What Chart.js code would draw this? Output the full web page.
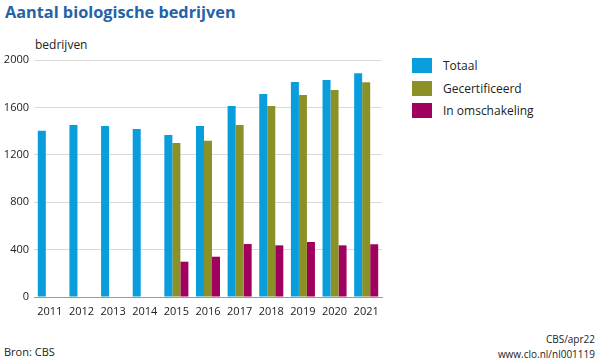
<!DOCTYPE html>
<html>
<head>
<meta charset="utf-8">
<script src="https://cdn.jsdelivr.net/npm/chart.js@4/dist/chart.umd.min.js"></script>
<style>
	body { margin: 0; width: 600px; height: 364px; background: #fff; font-family: "Open Sans", sans-serif; position: relative; overflow: hidden; }
	.title { position: absolute; left: 5px; top: 1px; font-size: 16.3px; font-weight: bold; color: #2463a8; }
	.unit { position: absolute; left: 35px; top: 36px; font-size: 12px; color: #222; }
	.chart { position: absolute; left: 0; top: 0; width: 390px; height: 320px; }
	.legend { position: absolute; left: 412px; top: 58px; font-size: 12px; color: #222; }
	.legend div { height: 22.5px; line-height: 16px; }
	.legend span { display: inline-block; width: 20px; height: 15px; vertical-align: top; margin-right: 11px; }
	.source { position: absolute; left: 4px; top: 344px; font-size: 11px; color: #222; }
	.credit { position: absolute; right: 5px; top: 332px; font-size: 10px; color: #222; text-align: right; line-height: 15px; }
</style>
</head>
<body>
<div class="title">Aantal biologische bedrijven</div>
<div class="unit">bedrijven</div>
<div class="chart"><canvas id="chart-bedrijven"></canvas></div>
<div class="legend" id="legend"></div>
<div class="source">Bron: CBS</div>
<div class="credit">CBS/apr22<br>www.clo.nl/nl001119</div>
<script>
var years = ['2011', '2012', '2013', '2014', '2015', '2016', '2017', '2018', '2019', '2020', '2021'];
var totaal = [1403, 1451, 1443, 1418, 1367, 1443, 1612, 1713, 1814, 1831, 1888];
var gecertificeerd = [null, null, null, null, 1300, 1319, 1451, 1612, 1705, 1747, 1812];
var omschakeling = [null, null, null, null, 298, 340, 447, 436, 464, 436, 445];
var yTicks = [0, 400, 800, 1200, 1600, 2000];

var seriesNames = ['Totaal', 'Gecertificeerd', 'In omschakeling'];
var seriesColors = ['#0a9ddc', '#8c9127', '#a0005e'];

var legendHtml = '';
for (var i = 0; i < seriesNames.length; i++) {
	legendHtml += '<div><span style="background:' + seriesColors[i] + '"></span>' + seriesNames[i] + '</div>';
}
document.getElementById('legend').innerHTML = legendHtml;

var ctx = document.getElementById('chart-bedrijven').getContext('2d');
var myChart = new Chart(ctx, {
	type: 'bar',
	data: {
		labels: years,
		datasets: [
			{ label: seriesNames[0], data: totaal, backgroundColor: seriesColors[0] },
			{ label: seriesNames[1], data: gecertificeerd, backgroundColor: seriesColors[1] },
			{ label: seriesNames[2], data: omschakeling, backgroundColor: seriesColors[2] }
		]
	},
	options: {
		responsive: true,
		maintainAspectRatio: false,
		animation: false,
		layout: { padding: { top: 60, right: 8, bottom: 3, left: 0 } },
		plugins: { legend: { display: false }, tooltip: { enabled: false } },
		datasets: { bar: { categoryPercentage: 0.76, barPercentage: 1.0 } },
		scales: {
			x: {
				grid: { display: false },
				border: { color: '#9a9a9a', width: 1 },
				ticks: { color: '#222', font: { family: 'Open Sans', size: 11 }, padding: 0, maxRotation: 0 },
				afterFit: function(s) { s.height = 20; }
			},
			y: {
				min: 0,
				max: 2000,
				afterBuildTicks: function(s) { s.ticks = yTicks.map(function(v) { return { value: v }; }); },
				grid: { color: '#d9d9d9', lineWidth: 1, drawTicks: false },
				border: { display: false },
				ticks: {
					color: '#222',
					font: { family: 'Open Sans', size: 11 },
					padding: 5,
					callback: function(v) { return String(v); }
				},
				afterFit: function(s) { s.width = 34; }
			}
		}
	}
});
</script>
</body>
</html>
